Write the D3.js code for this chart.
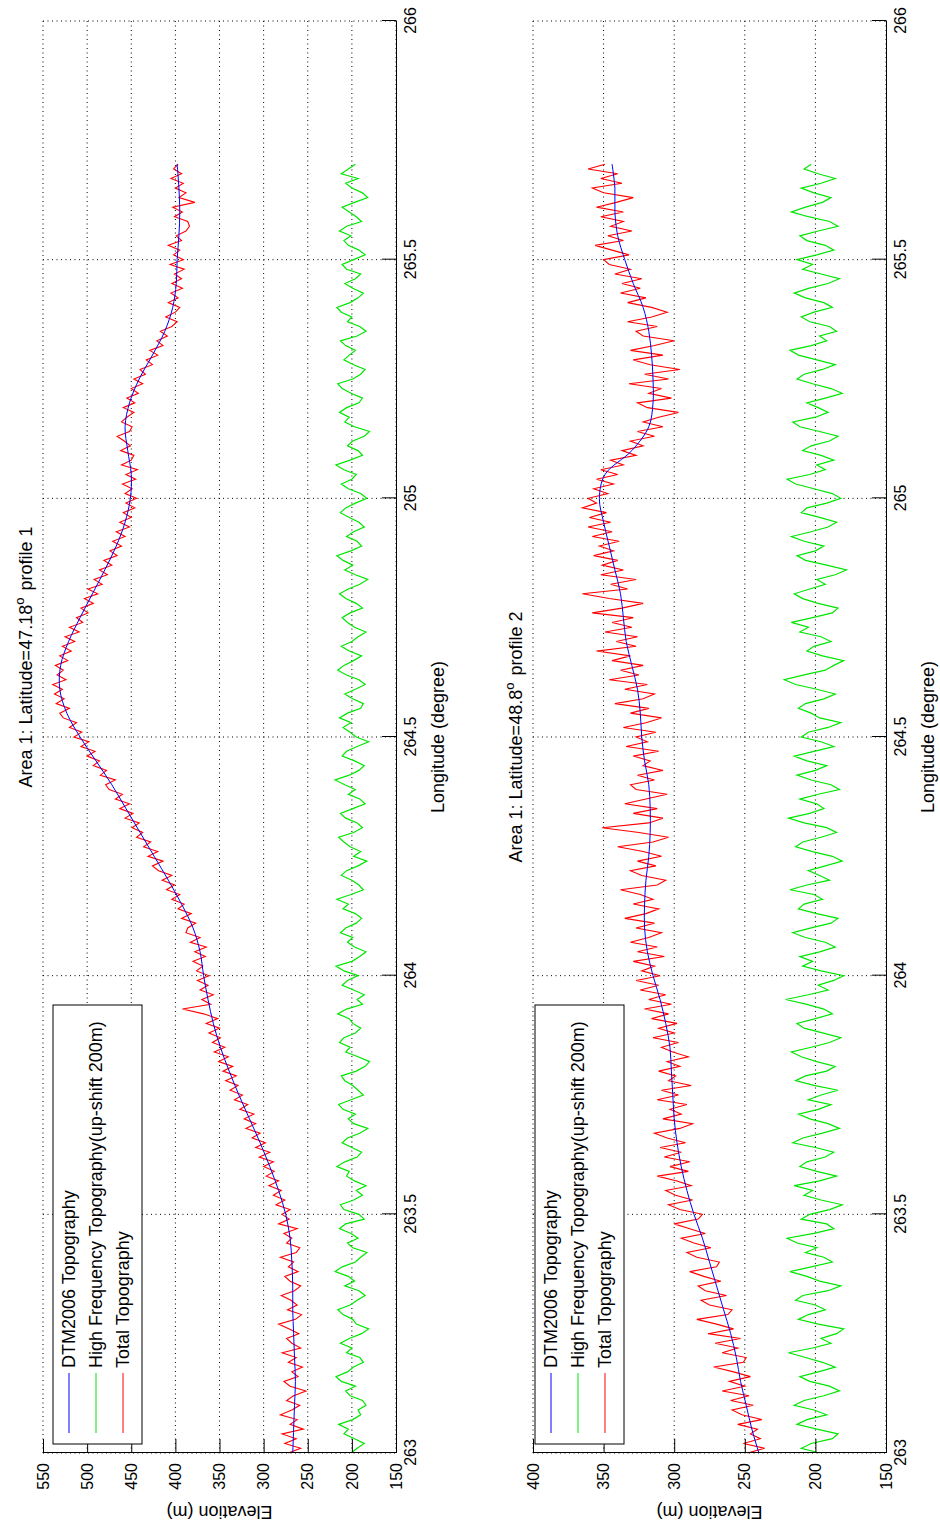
<!DOCTYPE html>
<html>
<head>
<meta charset="utf-8">
<script src="https://cdn.jsdelivr.net/npm/d3@7"></script>
<style>
  html, body { margin: 0; padding: 0; background: #fff; }
  svg { display: block; }
  text { font-family: "Liberation Sans", Arial, Helvetica, sans-serif; fill: #000; }
</style>
</head>
<body>
<svg id="chart" width="940" height="1530"></svg>
<script>
// ---------------- DATA ----------------
const lonTicks = [263, 263.5, 264, 264.5, 265, 265.5, 266];
const elevTicks1 = [150, 200, 250, 300, 350, 400, 450, 500, 550];
const elevTicks2 = [150, 200, 250, 300, 350, 400];
const legendLabels = ["DTM2006 Topography", "High Frequency Topography(up-shift 200m)", "Total Topography"];
const titleLats = ["47.18", "48.8"];
const profileNames = ["profile 1", "profile 2"];
const xLabel = "Longitude (degree)";
const yLabel = "Elevation (m)";

// sampling: DTM every 0.05 deg, HF/Total every 0.01 deg, from 263.00 to 265.70
const lonStart = 263.0;
const coarseStep = 0.05;
const fineStep = 0.01;

// Profile 1 (Latitude 47.18)
const dtm1 = [267,266,265,264,265,266,267,267,268,270,275,283,293,304,316,328,339,349,357,363,
  368,372,380,393,408,424,440,456,472,490,508,523,531,530,521,508,494,480,467,457,
  451,450,454,457,452,441,426,412,403,399,398,396,395,396,398];
const hf1 = [
  201,194,186,197,209,204,215,199,190,193,
  184,188,202,207,196,212,218,205,198,187,
  191,206,200,213,203,189,181,195,199,210,
  216,202,194,185,192,208,197,204,219,211,
  196,190,183,199,205,193,201,214,207,186,
  192,209,213,198,188,195,184,197,206,203,
  217,208,194,189,200,211,205,191,182,198,
  204,196,210,215,201,187,193,199,208,212,
  195,185,180,193,207,202,214,209,196,190,
  199,203,216,206,188,194,186,198,211,205,
  193,209,218,200,191,184,197,205,199,213,
  207,195,189,196,210,204,217,201,187,192,
  200,212,206,193,183,198,190,202,209,215,
  198,188,194,207,213,199,185,191,204,196,
  208,219,203,192,186,197,211,206,194,181,
  195,202,210,201,214,205,190,187,199,208,
  196,185,192,206,216,209,198,189,203,212,
  200,193,184,197,205,211,202,188,195,207,
  214,204,191,182,196,208,199,210,217,201,
  189,194,206,198,186,192,203,213,207,196,
  183,190,204,212,200,195,209,218,202,188,
  193,205,199,186,180,197,208,203,214,206,
  192,188,201,211,216,199,190,185,198,209,
  203,196,207,213,194,184,191,205,200,212,
  217,202,193,187,199,208,196,190,206,211,
  198,185,192,204,209,201,214,206,189,195,
  203,211,197,182,188,200,207,193,212,204,
  196];
const total1 = [
  272,258,276,263,279, 255,270,262,281,268,
  259,274,266,252,270, 277,261,268,256,272,
  263,279,258,268,274, 260,271,283,264,257,
  273,262,269,280,265, 258,270,276,261,272,
  266,281,263,259,274, 268,277,262,283,271,
  279,270,286,276,289, 280,294,283,297,288,
  300,289,305,293,309, 298,313,304,320,309,
  322,311,327,318,333, 324,338,329,343,331,
  346,335,351,340,356, 344,358,349,362,350,
  365,352,368,392,360, 370,357,372,363,375,
  362,376,369,380,366, 378,365,383,372,388,
  386,377,393,382,397, 390,404,395,410,401,
  415,404,419,426,414, 431,420,436,428,444,
  437,449,441,457,448, 463,452,468,460,475,
  479,468,485,478,493, 486,500,491,507,498,
  515,506,520,512,527, 531,520,535,526,537,
  528,539,524,534,527, 536,522,531,518,528,
  514,525,509,520,505, 512,499,507,493,503,
  488,499,483,492,477, 486,472,481,466,474,
  461,471,457,467,452, 463,450,459,446,456,
  444,457,449,460,445, 456,443,461,450,447,
  462,451,458,466,452, 449,461,455,447,459,
  446,455,442,450,437, 447,434,440,426,433,
  420,429,414,421,409, 417,404,398,411,400,
  395,408,397,405,392, 404,393,401,390,406,
  391,402,395,408,393, 399,388,384,386,401,
  392,403,378,396,388, 400,391,405,393,402,
  397];

// Profile 2 (Latitude 48.8)
const dtm2 = [240,245,249,253,256,260,265,270,275,280,286,291,295,298,300,301,302,303,306,310,
  315,319,321,321,320,318,317,317,318,321,323,324,326,330,334,336,338,342,346,350,
  353,349,330,318,315,315,316,318,322,329,335,340,342,342,344];
const hf2 = [
  197,210,203,188,184,199,213,206,192,201,
  215,208,194,183,190,204,211,198,186,195,
  207,219,202,189,196,185,180,198,212,205,
  193,200,214,209,191,182,197,206,218,203,
  188,194,207,199,213,220,201,187,192,210,
  204,190,181,196,208,202,215,197,185,199,
  211,206,193,187,200,216,209,195,183,191,
  204,212,198,189,205,196,184,201,214,207,
  192,186,199,210,217,203,190,182,195,208,
  213,200,188,194,206,221,205,191,198,187,
  180,196,209,202,211,197,186,193,207,216,
  203,189,184,199,212,208,195,201,218,206,
  190,197,205,193,181,188,202,214,209,196,
  185,192,208,219,204,194,199,211,198,183,
  189,203,213,200,192,206,215,201,187,196,
  210,205,191,182,197,203,212,207,194,186,
  199,214,222,208,193,187,180,195,206,201,
  189,196,211,205,217,202,188,184,198,209,
  215,204,193,199,186,178,192,207,213,200,
  194,208,217,203,191,185,197,210,206,192,
  182,188,201,214,220,204,193,199,187,196,
  209,203,190,184,197,211,216,200,191,198,
  206,193,181,189,202,213,208,195,186,199,
  212,218,203,192,197,185,190,204,210,201,
  188,194,207,215,205,191,183,196,209,202,
  213,199,187,193,206,211,198,184,190,205,
  217,207,195,189,201,210,196,186,198,208,
  203];
const total2 = [
  248,236,251,239,246, 241,255,238,252,259,
  244,260,247,266,250, 261,246,258,272,251,
  249,266,255,271,253, 276,258,270,284,262,
  259,275,281,263,278, 283,267,279,289,270,
  268,284,291,274,286, 295,278,289,300,283,
  280,296,304,287,299, 306,288,298,312,290,
  303,289,307,295,310, 292,305,314,296,287,
  308,295,303,291,312, 297,309,288,304,299,
  311,296,305,290,301, 309,297,315,300,311,
  298,316,304,321,302, 318,306,324,311,327,
  310,323,314,329,307, 326,312,331,318,309,
  327,314,335,320,311, 329,315,324,338,312,
  306,323,331,313,326, 309,322,340,315,304,
  325,351,318,308,329, 312,335,320,305,327,
  331,314,326,308,322, 317,329,311,334,319,
  327,313,336,320,309, 331,318,342,322,314,
  335,319,346,325,338, 322,344,331,355,327,
  341,326,349,330,344, 329,358,337,322,346,
  365,333,345,327,352, 336,351,340,357,343,
  353,339,358,344,361, 345,360,348,365,355,
  361,347,357,343,355, 340,352,336,345,327,
  337,322,331,314,326, 308,322,311,297,319,
  326,302,318,309,332, 304,321,296,317,329,
  308,331,314,300,322, 327,312,333,316,305,
  316,333,320,338,324, 337,323,342,331,346,
  350,332,344,356,336, 347,330,345,336,352,
  336,355,341,329,350, 358,337,352,340,361,
  349];

// ---------------- LAYOUT (landscape, then rotated) ----------------
const W = 1530, H = 940;
const panels = [
  { top: 43, bottom: 396, domain: [150, 550], ticks: elevTicks1, dtm: dtm1, hf: hf1, total: total1, lat: titleLats[0], prof: profileNames[0], legTop: 53, titleShift: 80 },
  { top: 533, bottom: 886, domain: [150, 400], ticks: elevTicks2, dtm: dtm2, hf: hf2, total: total2, lat: titleLats[1], prof: profileNames[1], legTop: 535, titleShift: 0 }
];
const xLeft = 77, xRight = 1509;
const x = d3.scaleLinear().domain([263, 266]).range([xLeft, xRight]);

const svg = d3.select("#chart");
const root = svg.append("g").attr("transform", `translate(0,${W}) rotate(-90)`);

const colors = { dtm: "#0000ff", hf: "#00e600", total: "#ff0000" };

panels.forEach(p => {
  const y = d3.scaleLinear().domain(p.domain).range([p.bottom, p.top]);
  const g = root.append("g");

  // grid (dotted)
  const grid = g.append("g").attr("stroke", "#000").attr("stroke-width", 1).attr("stroke-dasharray", "1,3.5").attr("fill", "none");
  grid.selectAll("line.v").data(lonTicks).join("line")
    .attr("x1", d => x(d)).attr("x2", d => x(d)).attr("y1", p.top).attr("y2", p.bottom);
  grid.selectAll("line.h").data(p.ticks).join("line")
    .attr("x1", xLeft).attr("x2", xRight).attr("y1", d => y(d)).attr("y2", d => y(d));

  // series
  const fineLine = d3.line().x((d, i) => x(lonStart + i * fineStep)).y(d => y(d));
  const coarseLine = d3.line().x((d, i) => x(lonStart + i * coarseStep)).y(d => y(d)).curve(d3.curveCatmullRom);
  g.append("path").datum(p.total).attr("d", fineLine).attr("fill", "none").attr("stroke", colors.total).attr("stroke-width", 1.1);
  g.append("path").datum(p.hf).attr("d", fineLine).attr("fill", "none").attr("stroke", colors.hf).attr("stroke-width", 1.2);
  g.append("path").datum(p.dtm).attr("d", coarseLine).attr("fill", "none").attr("stroke", colors.dtm).attr("stroke-width", 1);

  // axes
  const yAxis = d3.axisLeft(y).tickValues(p.ticks).tickSizeInner(-14).tickSizeOuter(0).tickPadding(10).tickFormat(d => String(d));
  const xAxis = d3.axisBottom(x).tickValues(lonTicks).tickSizeInner(-14).tickSizeOuter(0).tickPadding(9).tickFormat(d => String(d));
  const ya = g.append("g").attr("transform", `translate(${xLeft},0)`).call(yAxis);
  const xa = g.append("g").attr("transform", `translate(0,${p.bottom})`).call(xAxis);
  [ya, xa].forEach(a => {
    a.selectAll("path, line").attr("stroke", "#000").attr("stroke-width", 1);
    a.selectAll("text").attr("font-size", 16).attr("font-family", "'Liberation Sans', Arial, sans-serif").attr("fill", "#000");
  });

  // x label
  g.append("text").attr("x", (xLeft + xRight) / 2).attr("y", p.bottom + 48)
    .attr("text-anchor", "middle").attr("font-size", 18).text(xLabel);
  // y label
  const ymid = (p.top + p.bottom) / 2;
  g.append("text").attr("transform", `translate(24,${ymid}) rotate(-90)`)
    .attr("text-anchor", "middle").attr("font-size", 18).text(yLabel);

  // title
  const t = g.append("text").attr("x", (xLeft + xRight) / 2 + p.titleShift).attr("y", p.top - 11)
    .attr("text-anchor", "middle").attr("font-size", 18);
  t.append("tspan").text("Area 1: Latitude=" + p.lat);
  t.append("tspan").attr("dy", -8).attr("font-size", 13).text("o");
  t.append("tspan").attr("dy", 8).attr("dx", 7).text(p.prof);

  // legend
  const legX = 86, legW = 439, legH = 89;
  const leg = g.append("g");
  leg.append("rect").attr("x", legX).attr("y", p.legTop).attr("width", legW).attr("height", legH)
    .attr("fill", "#fff").attr("stroke", "#000").attr("stroke-width", 1);
  const rowOff = [16, 43, 70];
  const legColors = [colors.dtm, colors.hf, colors.total];
  legendLabels.forEach((lab, i) => {
    const yy = p.legTop + rowOff[i];
    leg.append("line").attr("x1", legX + 11).attr("x2", legX + 71).attr("y1", yy).attr("y2", yy)
      .attr("stroke", legColors[i]).attr("stroke-width", 1);
    leg.append("text").attr("x", legX + 76).attr("y", yy).attr("dy", "0.35em")
      .attr("font-size", 18).text(lab);
  });
});
</script>
</body>
</html>
